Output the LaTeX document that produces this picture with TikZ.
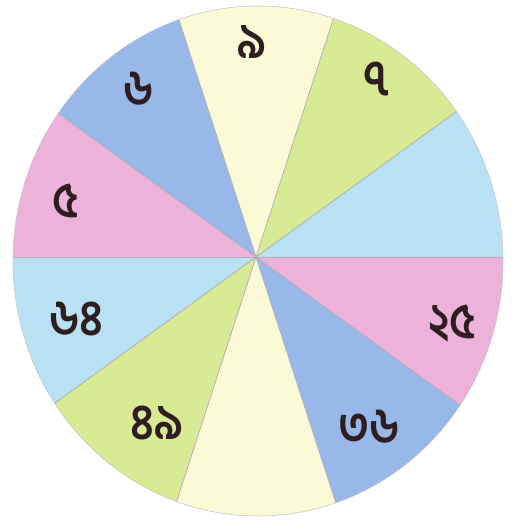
\documentclass[tikz,border=0pt]{standalone}
\usepackage{fontspec}
\newfontfamily\bnfont[Script=Bengali]{Hind Siliguri}
\usetikzlibrary{calc}
\definecolor{paleyellow}{HTML}{FAFAD6}
\definecolor{ygreen}{HTML}{D9EA95}
\definecolor{lblue}{HTML}{B8E2F4}
\definecolor{mblue}{HTML}{97B8E8}
\definecolor{pinkish}{HTML}{ECB2DA}
\definecolor{inkc}{HTML}{2E1E22}
\definecolor{spokec}{HTML}{B4AEB8}
\tikzset{
  numlabel/.style={font=\bnfont\fontsize{50}{54}\selectfont\bfseries, text=inkc, inner sep=0pt},
  spoke/.style={draw=spokec, line width=0.8pt},
}
\begin{document}
\begin{tikzpicture}[x=1pt,y=1pt]
\useasboundingbox (0,0) rectangle (519,520);
\coordinate (C) at (256,263);
\coordinate (E) at (258,259);
\begin{scope}
  \clip (E) ellipse [x radius=245, y radius=255];
  \foreach \a/\col in {0/lblue,36/ygreen,72/paleyellow,108/mblue,144/pinkish,180/lblue,216/ygreen,252/paleyellow,288/mblue,324/pinkish}{
    \fill[\col] (C) -- ++(\a:420) -- ($(C)+(\a+18:420)$) -- ($(C)+(\a+36:420)$) -- cycle;
  }
  \foreach \a in {0,36,...,324}{
    \draw[spoke] (C) -- ++(\a:420);
  }
\end{scope}
\draw[spokec!70, line width=0.6pt] (E) ellipse [x radius=245, y radius=255];
\node[numlabel, xscale=0.9] (n9) at (252,478) {৯};
\node[numlabel, xscale=0.9] (n7) at (377,441) {৭};
\node[numlabel, xscale=0.9] (n6) at (139,431) {৬};
\node[numlabel, xscale=0.9] (n5) at (66,319) {৫};
\node[numlabel, xscale=0.9] (n64) at (76,201) {৬৪};
\node[numlabel, xscale=0.9] (n49) at (157,97) {৪৯};
\node[numlabel, xscale=0.9] (n36) at (369,93) {৩৬};
\node[numlabel, xscale=0.9] (n25) at (452,196) {২৫};
\end{tikzpicture}
\end{document}
